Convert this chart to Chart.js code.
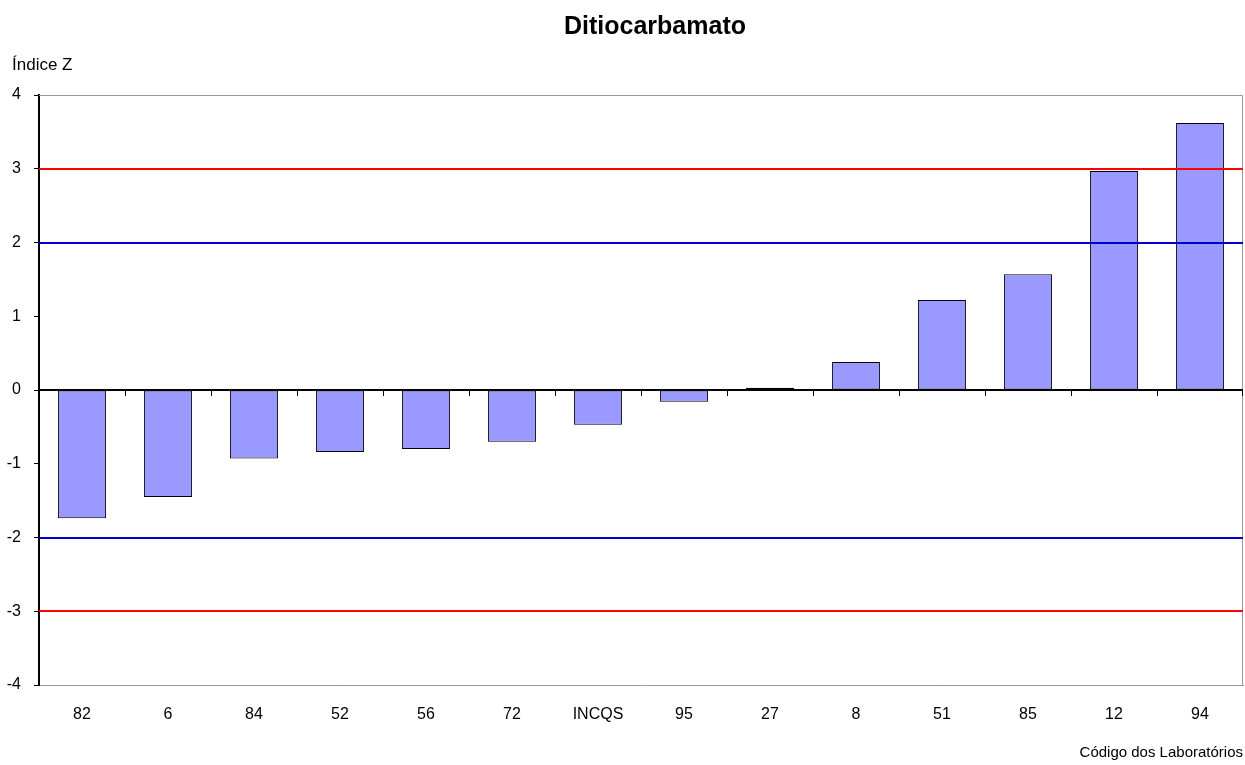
<!DOCTYPE html>
<html>
<head>
<meta charset="utf-8">
<script src="https://cdn.jsdelivr.net/npm/chart.js@4/dist/chart.umd.min.js"></script>
<style>
html,body{margin:0;padding:0;background:#fff;}
#wrap{width:1245px;height:765px;position:relative;}
</style>
</head>
<body>
<div id="wrap"><canvas id="c"></canvas></div>
<script>
const categories = ['82','6','84','52','56','72','INCQS','95','27','8','51','85','12','94'];
const zValues = [-1.74,-1.45,-0.93,-0.84,-0.80,-0.70,-0.47,-0.16,0.03,0.38,1.22,1.57,2.97,3.62];
const limitValues = [3, 2, -2, -3];
const limitColors = ['#FF0000','#0000CC','#0000CC','#FF0000'];
const chartTitle = 'Ditiocarbamato';
const yAxisLabel = 'Índice Z';
const xAxisLabel = 'Código dos Laboratórios';

const FONT = "Arial, 'Liberation Sans', sans-serif";

const overlay = {
  id: 'overlay',
  beforeDatasetsDraw(chart) {
    const {ctx, chartArea: a} = chart;
    ctx.save();
    ctx.strokeStyle = '#999999';
    ctx.lineWidth = 1;
    ctx.beginPath();
    ctx.moveTo(a.left, a.top + 0.5);
    ctx.lineTo(a.right - 0.5, a.top + 0.5);
    ctx.lineTo(a.right - 0.5, a.bottom);
    ctx.stroke();
    ctx.restore();
  },
  afterDatasetsDraw(chart) {
    const {ctx, chartArea: a, scales} = chart;
    const y = scales.y, x = scales.x;
    ctx.save();
    limitValues.forEach((v, i) => {
      const py = Math.round(y.getPixelForValue(v));
      ctx.strokeStyle = limitColors[i];
      ctx.lineWidth = 2;
      ctx.beginPath();
      ctx.moveTo(a.left, py);
      ctx.lineTo(a.right, py);
      ctx.stroke();
    });
    const y0 = Math.round(y.getPixelForValue(0));
    ctx.strokeStyle = '#000';
    ctx.lineWidth = 2;
    ctx.beginPath();
    ctx.moveTo(a.left, y0);
    ctx.lineTo(a.right, y0);
    ctx.stroke();
    ctx.lineWidth = 1;
    ctx.beginPath();
    for (let i = 1; i <= categories.length; i++) {
      let bx;
      if (i < categories.length) bx = (x.getPixelForValue(i - 1) + x.getPixelForValue(i)) / 2;
      else bx = a.right - 1;
      bx = Math.round(bx) + 0.5;
      ctx.moveTo(bx, y0);
      ctx.lineTo(bx, y0 + 6);
    }
    ctx.stroke();
    // texts
    ctx.fillStyle = '#000';
    ctx.textBaseline = 'alphabetic';
    ctx.textAlign = 'center';
    ctx.font = 'bold 25px ' + FONT;
    ctx.fillText(chartTitle, 655, 34);
    ctx.textAlign = 'left';
    ctx.font = '17px ' + FONT;
    ctx.fillText(yAxisLabel, 12, 70);
    ctx.restore();
  }
};

new Chart(document.getElementById('c'), {
  type: 'bar',
  data: {
    labels: categories,
    datasets: [{
      data: zValues,
      backgroundColor: '#9999FF',
      borderColor: '#000000',
      borderWidth: 1,
      borderSkipped: false,
      categoryPercentage: 1,
      barPercentage: 0.56
    }]
  },
  plugins: [overlay],
  options: {
    responsive: true,
    maintainAspectRatio: false,
    animation: false,
    layout: {padding: {left: 0, right: 2, top: 95, bottom: 0}},
    plugins: {
      legend: {display: false},
      tooltip: {enabled: false},
      title: {display: false},
      subtitle: {display: false}
    },
    scales: {
      x: {
        grid: {display: false, drawTicks: false},
        border: {display: true, color: '#999999', width: 1},
        ticks: {color: '#000', font: {family: FONT, size: 16}, padding: 20, maxRotation: 0, autoSkip: false},
        title: {
          display: true,
          text: xAxisLabel,
          align: 'end',
          color: '#000',
          font: {family: FONT, size: 15},
          padding: {top: 18, bottom: 3}
        },
        afterFit(scale) { scale.height = 80; }
      },
      y: {
        min: -4,
        max: 4,
        ticks: {stepSize: 1, color: '#000', font: {family: FONT, size: 16}, padding: 13},
        grid: {drawOnChartArea: false, tickLength: 5, color: '#000'},
        border: {display: true, color: '#000', width: 2},
        afterFit(scale) { scale.width = 39; }
      }
    }
  }
});
</script>
</body>
</html>
